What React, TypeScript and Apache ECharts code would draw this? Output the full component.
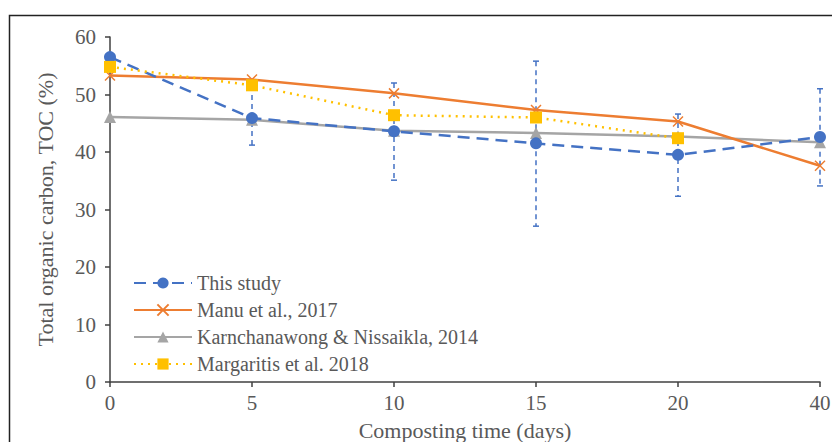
import React, { useEffect, useRef } from "react";
import * as echarts from "echarts";

const days = ["0", "5", "10", "15", "20", "40"];
const thisStudy = [56.5, 45.9, 43.6, 41.5, 39.5, 42.6];
const thisStudyLow = [56.5, 41.2, 35.1, 27.1, 32.3, 34.1];
const thisStudyHigh = [56.5, 51.5, 52.0, 55.8, 46.6, 51.0];
const manu = [53.3, 52.6, 50.2, 47.3, 45.3, 37.6];
const karn = [46.1, 45.6, 43.7, 43.3, 42.7, 41.7];
const margaritis: (number | null)[] = [54.8, 51.6, 46.4, 46.0, 42.4, null];

const FONT = "'Liberation Serif', 'Times New Roman', serif";
const TXT = "#595959";

export default function App() {
  const ref = useRef<HTMLDivElement>(null);
  useEffect(() => {
    if (!ref.current) return;
    document.body.style.margin = "0";
    const chart = echarts.init(ref.current, null, { renderer: "svg" });
    const errData = days.map((_, i) => [i, thisStudyLow[i], thisStudyHigh[i]]);
    chart.setOption({
      animation: false,
      backgroundColor: "#fff",
      grid: { left: 110, right: 12, top: 37, bottom: 60, outerBoundsMode: "none", containLabel: false },
      graphic: [
        {
          type: "rect",
          shape: { x: 9.5, y: 15.5, width: 900, height: 500 },
          style: { fill: "none", stroke: "#222", lineWidth: 1.5 },
          silent: true,
          z: -1,
        },
      ],
      legend: {
        orient: "vertical",
        left: 128,
        top: 268,
        itemWidth: 58,
        itemHeight: 14,
        itemGap: 7,
        textStyle: { fontFamily: FONT, fontSize: 20, color: TXT },
        data: [
          "This study",
          "Manu et al., 2017",
          "Karnchanawong & Nissaikla, 2014",
          "Margaritis et al. 2018",
        ],
      },
      xAxis: {
        type: "category",
        data: days,
        boundaryGap: false,
        axisLine: { lineStyle: { color: "#404040", width: 1.5 } },
        axisTick: { show: true, length: 5, lineStyle: { color: "#404040", width: 1.5 } },
        axisLabel: { fontFamily: FONT, fontSize: 21, color: TXT, margin: 10 },
        name: "Composting time (days)",
        nameLocation: "middle",
        nameGap: 37,
        nameTextStyle: { fontFamily: FONT, fontSize: 22, color: TXT },
      },
      yAxis: {
        type: "value",
        min: 0,
        max: 60,
        interval: 10,
        splitLine: { show: false },
        axisLine: { show: true, lineStyle: { color: "#404040", width: 1.5 } },
        axisTick: { show: true, length: 5, lineStyle: { color: "#404040", width: 1.5 } },
        axisLabel: { fontFamily: FONT, fontSize: 21, color: TXT, margin: 14 },
        name: "Total organic carbon, TOC (%)",
        nameLocation: "middle",
        nameGap: 54,
        nameTextStyle: { fontFamily: FONT, fontSize: 22, color: TXT },
      },
      series: [
        {
          type: "custom",
          name: "err",
          z: 1,
          silent: true,
          data: errData,
          renderItem: (params: any, api: any) => {
            const x = api.value(0);
            const lo = api.coord([x, api.value(1)]);
            const hi = api.coord([x, api.value(2)]);
            if (Math.abs(lo[1] - hi[1]) < 1) return { type: "group", children: [] };
            const style = { stroke: "#4472C4", lineWidth: 1.5, lineDash: [5, 4] };
            const cap = { stroke: "#4472C4", lineWidth: 1.5 };
            return {
              type: "group",
              children: [
                { type: "line", shape: { x1: hi[0], y1: hi[1], x2: lo[0], y2: lo[1] }, style },
                { type: "line", shape: { x1: hi[0] - 3, y1: hi[1], x2: hi[0] + 3, y2: hi[1] }, style: cap },
                { type: "line", shape: { x1: lo[0] - 3, y1: lo[1], x2: lo[0] + 3, y2: lo[1] }, style: cap },
              ],
            };
          },
        },
        {
          type: "line",
          name: "This study",
          data: thisStudy,
          z: 5,
          symbol: "circle",
          symbolSize: 12,
          color: "#4472C4",
          lineStyle: { color: "#4472C4", width: 2.5, type: [12, 7] },
          itemStyle: { color: "#4472C4" },
        },
        {
          type: "line",
          name: "Manu et al., 2017",
          data: manu,
          z: 4,
          symbol: "path://M0,0L10,10M10,0L0,10",
          symbolSize: 10,
          color: "#ED7D31",
          lineStyle: { color: "#ED7D31", width: 2.5 },
          itemStyle: { color: "none", borderColor: "#ED7D31", borderWidth: 1.5 },
        },
        {
          type: "line",
          name: "Karnchanawong & Nissaikla, 2014",
          data: karn,
          z: 3,
          symbol: "triangle",
          symbolSize: 12,
          color: "#A5A5A5",
          lineStyle: { color: "#A5A5A5", width: 2.5 },
          itemStyle: { color: "#A5A5A5" },
        },
        {
          type: "line",
          name: "Margaritis et al. 2018",
          data: margaritis,
          z: 6,
          symbol: "rect",
          symbolSize: 12,
          color: "#FFC000",
          lineStyle: { color: "#FFC000", width: 2.5, type: [2, 5] },
          itemStyle: { color: "#FFC000" },
        },
      ],
    });
    return () => chart.dispose();
  }, []);
  return <div ref={ref} style={{ width: 832, height: 442 }} />;
}
